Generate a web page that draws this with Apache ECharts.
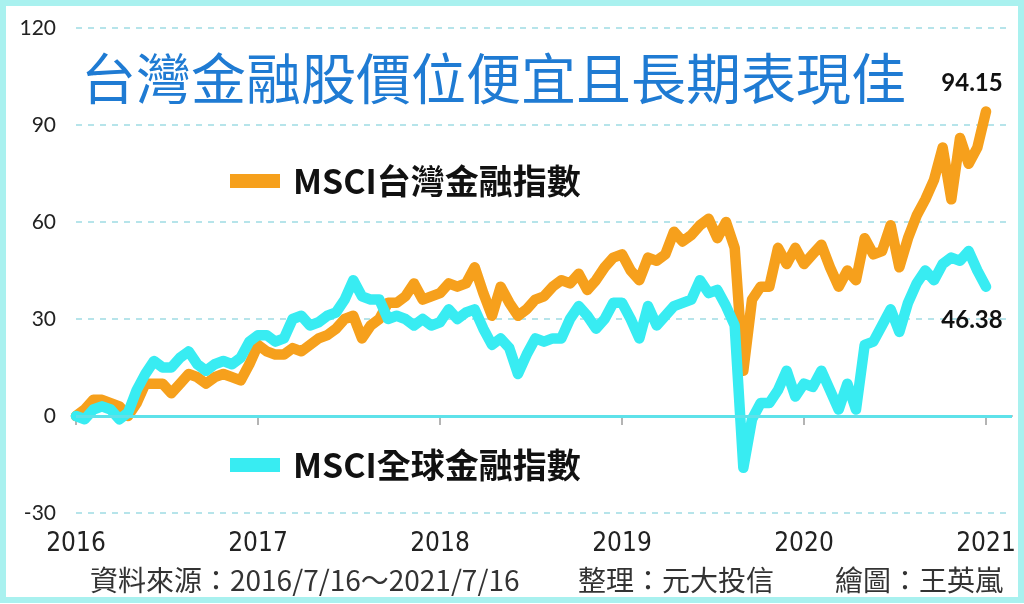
<!DOCTYPE html>
<html>
<head>
<meta charset="utf-8">
<script src="https://cdn.jsdelivr.net/npm/echarts@6/dist/echarts.min.js"></script>
<style>
html,body{margin:0;padding:0;background:#fff;}
#chart{width:1024px;height:604px;}
</style>
</head>
<body>
<div id="chart"></div>
<script>
// ---- data ----
const yearLabels = ['2016','2017','2018','2019','2020','2021'];
const pointsPerYear = 21;
const extraSlots = 3; // empty room after last point
const taiwanFin = [0,2,5,5,4,3,0,4,10,10,
 10,7,10,13,12,10,12,13,12,11,
 16,22,20,19,19,21,20,22,24,25,
 27,30,31,24,28,30,35,35,37,41,
 36,37,38,41,40,41,46,38,31,40,
 35,31,33,36,37,40,42,41,44,39,
 42,46,49,50,45,42,49,48,50,57,
 54,56,59,61,55,60,52,14,36,40,
 40,52,47,52,47,50,53,46,40,45,
 42,55,50,51,59,46,55,62,67,73,
 83,67,86,78,83,94.15];
const globalFin = [0,-1,2,3,2,-1,1,8,13,17,
 15,15,18,20,16,14,16,17,16,18,
 23,25,25,23,24,30,31,28,29,31,
 32,36,42,37,36,36,30,31,30,28,
 30,28,29,33,30,32,33,27,22,24,
 21,13,19,24,23,24,24,30,34,31,
 27,30,35,35,30,24,34,28,31,34,
 35,36,42,38,39,34,28,-16,-1,4,
 4,8,14,6,10,9,14,8,2,10,
 2,22,23,28,33,26,35,41,45,42,
 47,49,48,51,45,40];
const endLabels = ['94.15','46.38'];
const seriesNames = ['MSCI台灣金融指數','MSCI全球金融指數'];
const yTicks = {min:-30, max:120, step:30};

const nCats = taiwanFin.length + extraSlots;
const categories = Array.from({length:nCats}, (_, i) => {
  return (i % pointsPerYear === 0 && yearLabels[i / pointsPerYear]) ? yearLabels[i / pointsPerYear] : String(i);
});
const isYearTick = (i) => i % pointsPerYear === 0 && i / pointsPerYear < yearLabels.length;

const ORANGE = '#f6a01c';
const CYAN = '#38ecf2';

const chart = echarts.init(document.getElementById('chart'));
chart.setOption({
  animation:false,
  backgroundColor:'#ffffff',
  title:{
    text:'台灣金融股價位便宜且長期表現佳',
    left:76, top:46,
    textStyle:{fontFamily:'Noto Sans CJK TC', fontSize:55, fontWeight:'normal', color:'#1f7bd3'}
  },
  legend:[
    {data:[seriesNames[0]], left:225, top:159, icon:'rect', itemWidth:50, itemHeight:14,
     textStyle:{fontFamily:'Noto Sans CJK TC', fontSize:34, fontWeight:'bold', color:'#111', padding:[0,0,0,8]}},
    {data:[seriesNames[1]], left:225, top:443, icon:'rect', itemWidth:50, itemHeight:14,
     textStyle:{fontFamily:'Noto Sans CJK TC', fontSize:34, fontWeight:'bold', color:'#111', padding:[0,0,0,8]}}
  ],
  grid:{left:76, right:12, top:28, bottom:91},
  xAxis:{
    type:'category',
    data:categories,
    boundaryGap:false,
    axisLine:{show:true, lineStyle:{color:'#b4b4b4', width:2}},
    axisTick:{show:true, interval:(i)=>isYearTick(i), length:9, lineStyle:{color:'#b4b4b4', width:2}},
    axisLabel:{interval:(i)=>isYearTick(i), margin:18, fontFamily:'DejaVu Sans Condensed', fontSize:26, color:'#222',
      formatter:(v)=>yearLabels.includes(v)?v:''},
    splitLine:{show:false}
  },
  yAxis:{
    type:'value', min:yTicks.min, max:yTicks.max, interval:yTicks.step,
    axisLine:{show:false}, axisTick:{show:false},
    axisLabel:{margin:20, fontFamily:'Lato', fontSize:21, color:'#222'},
    splitLine:{show:true, lineStyle:{color:'#9fdbe4', type:[6,6], width:1.5}}
  },
  series:[
    {
      name:'zero', type:'line', data:[], z:1, silent:true,
      markLine:{silent:true, symbol:'none', label:{show:false},
        lineStyle:{color:'#5ee2ea', width:3, type:'solid'},
        data:[{yAxis:0}]}
    },
    {
      name:seriesNames[0], type:'line', data:taiwanFin, z:2,
      showSymbol:false, symbol:'none', smooth:false,
      lineStyle:{color:ORANGE, width:10.5, cap:'round', join:'round'},
      itemStyle:{color:ORANGE},
      markPoint:{symbol:'circle', symbolSize:0,
        data:[{coord:[taiwanFin.length-1, taiwanFin[taiwanFin.length-1]]}],
        label:{show:true, formatter:endLabels[0], offset:[-14,-28], fontFamily:'Lato', fontWeight:'bold', fontSize:24, color:'#111'}}
    },
    {
      name:seriesNames[1], type:'line', data:globalFin, z:3,
      showSymbol:false, symbol:'none', smooth:false,
      lineStyle:{color:CYAN, width:10.5, cap:'round', join:'round'},
      itemStyle:{color:CYAN},
      markPoint:{symbol:'circle', symbolSize:0,
        data:[{coord:[globalFin.length-1, globalFin[globalFin.length-1]]}],
        label:{show:true, formatter:endLabels[1], offset:[-14,34], fontFamily:'Lato', fontWeight:'bold', fontSize:24, color:'#111'}}
    }
  ],
  graphic:[
    {type:'rect', z:100, silent:true, shape:{x:3, y:3, width:1018, height:597},
     style:{fill:'none', stroke:'#a9f1ef', lineWidth:6}},
    {type:'text', left:90, top:566, style:{text:'資料來源：2016/7/16～2021/7/16', fontFamily:'Noto Sans CJK TC', fontSize:28, fill:'#333'}},
    {type:'text', left:578, top:566, style:{text:'整理：元大投信', fontFamily:'Noto Sans CJK TC', fontSize:28, fill:'#333'}},
    {type:'text', left:835, top:566, style:{text:'繪圖：王英嵐', fontFamily:'Noto Sans CJK TC', fontSize:28, fill:'#333'}}
  ]
});
</script>
</body>
</html>
